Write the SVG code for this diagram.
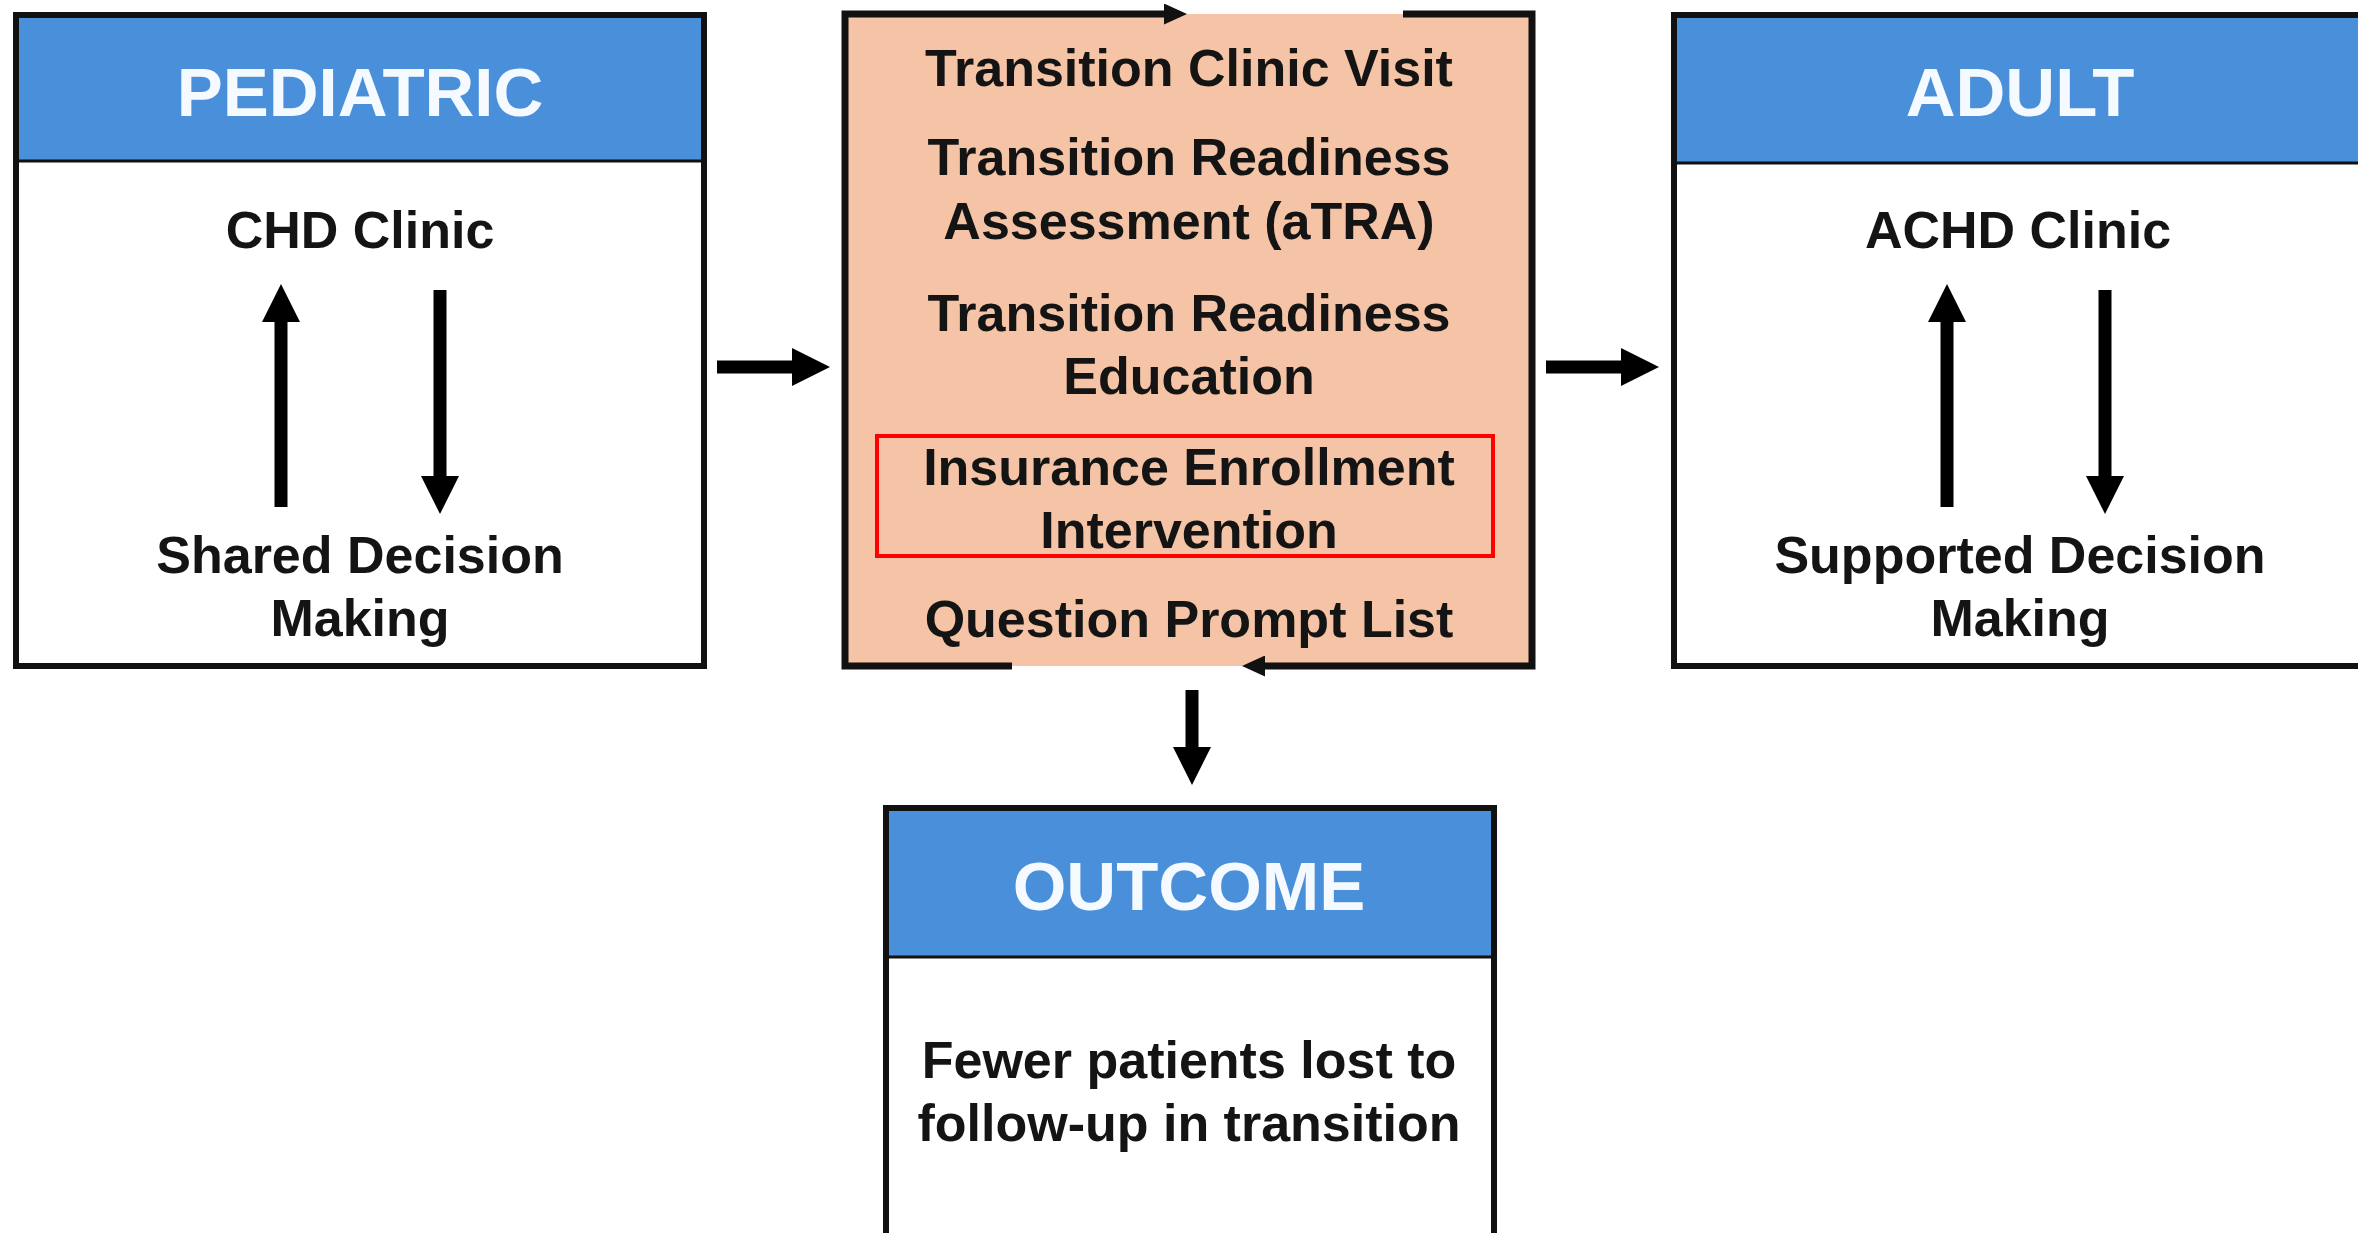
<svg xmlns="http://www.w3.org/2000/svg" width="2358" height="1233" viewBox="0 0 2358 1233">
  <style>
    .frame { fill: #ffffff; stroke: #111111; stroke-width: 6; }
    .head { fill: #4a8fda; }
    .rule { stroke: #111111; stroke-width: 3; }
    .title { font-family: "Liberation Sans", Arial, sans-serif; font-weight: bold; font-size: 69px; fill: #f4faff; text-anchor: middle; }
    .body { font-family: "Liberation Sans", Arial, sans-serif; font-weight: bold; font-size: 52px; fill: #141414; text-anchor: middle; }
    .shaft { stroke: #000000; stroke-width: 13; fill: none; }
    .cycle { stroke: #111111; stroke-width: 7; fill: none; stroke-linejoin: miter; }
  </style>
  <defs>
    <marker id="bigHead" viewBox="0 0 38 38" refX="2" refY="19" markerWidth="38" markerHeight="38" markerUnits="userSpaceOnUse" orient="auto">
      <path d="M0,0 L38,19 L0,38 z" fill="#000000"/>
    </marker>
    <marker id="smallHead" viewBox="0 0 23 21" refX="2" refY="10.5" markerWidth="23" markerHeight="21" markerUnits="userSpaceOnUse" orient="auto">
      <path d="M0,0 L23,10.5 L0,21 z" fill="#111111"/>
    </marker>
  </defs>

  <rect width="2358" height="1233" fill="#ffffff"/>

  <!-- Pediatric care -->
  <g id="pediatric">
    <rect class="frame" x="16" y="15" width="688" height="651"/>
    <rect class="head" x="19" y="18" width="682" height="143"/>
    <line class="rule" x1="16" y1="161" x2="704" y2="161"/>
    <text class="title" x="360" y="116">PEDIATRIC</text>
    <text class="body" x="360" y="248">CHD Clinic</text>
    <text class="body" x="360" y="573">Shared Decision</text>
    <text class="body" x="360" y="636">Making</text>
    <line class="shaft" x1="281" y1="507" x2="281" y2="320" marker-end="url(#bigHead)"/>
    <line class="shaft" x1="440" y1="290" x2="440" y2="478" marker-end="url(#bigHead)"/>
  </g>

  <!-- Transition program -->
  <g id="transition">
    <rect x="845" y="14" width="687" height="652" fill="#f5c3a5"/>
    <text class="body" x="1189" y="86">Transition Clinic Visit</text>
    <text class="body" x="1189" y="175">Transition Readiness</text>
    <text class="body" x="1189" y="239">Assessment (aTRA)</text>
    <text class="body" x="1189" y="331">Transition Readiness</text>
    <text class="body" x="1189" y="394">Education</text>
    <text class="body" x="1189" y="485">Insurance Enrollment</text>
    <text class="body" x="1189" y="548">Intervention</text>
    <text class="body" x="1189" y="637">Question Prompt List</text>
    <rect x="877" y="436" width="616" height="120" fill="none" stroke="#ff0000" stroke-width="4"/>
  </g>

  <!-- Adult care -->
  <g id="adult">
    <rect class="frame" x="1674" y="15" width="692" height="651"/>
    <rect class="head" x="1677" y="18" width="686" height="145"/>
    <line class="rule" x1="1674" y1="163" x2="2366" y2="163"/>
    <text class="title" x="2020" y="116">ADULT</text>
    <text class="body" x="2018" y="248">ACHD Clinic</text>
    <text class="body" x="2020" y="573">Supported Decision</text>
    <text class="body" x="2020" y="636">Making</text>
    <line class="shaft" x1="1947" y1="507" x2="1947" y2="320" marker-end="url(#bigHead)"/>
    <line class="shaft" x1="2105" y1="290" x2="2105" y2="478" marker-end="url(#bigHead)"/>
  </g>

  <!-- Outcome -->
  <g id="outcome">
    <rect class="frame" x="886" y="808" width="608" height="440"/>
    <rect class="head" x="889" y="811" width="602" height="146"/>
    <line class="rule" x1="886" y1="957" x2="1494" y2="957"/>
    <text class="title" x="1189" y="910">OUTCOME</text>
    <text class="body" x="1189" y="1078">Fewer patients lost to</text>
    <text class="body" x="1189" y="1141">follow-up in transition</text>
  </g>

  <!-- Connectors -->
  <g id="connectors">
    <line class="shaft" x1="717" y1="367" x2="794" y2="367" marker-end="url(#bigHead)"/>
    <line class="shaft" x1="1546" y1="367" x2="1623" y2="367" marker-end="url(#bigHead)"/>
    <line class="shaft" x1="1192" y1="690" x2="1192" y2="749" marker-end="url(#bigHead)"/>
    <path class="cycle" d="M1012,666 L845,666 L845,14 L1166,14" marker-end="url(#smallHead)"/>
    <path class="cycle" d="M1403,14 L1532,14 L1532,666 L1263,666" marker-end="url(#smallHead)"/>
  </g>
</svg>
